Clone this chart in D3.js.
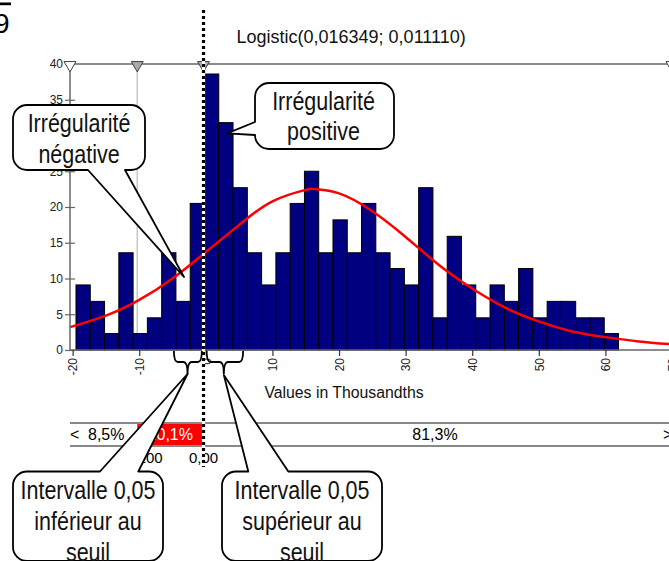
<!DOCTYPE html>
<html><head><meta charset="utf-8">
<script src="https://cdn.jsdelivr.net/npm/d3@7"></script>
<style>
html,body{margin:0;padding:0;background:#fff;overflow:hidden}
svg{display:block}
text{font-family:"Liberation Sans",Arial,sans-serif}
</style></head>
<body>
<svg id="c" width="669" height="561"></svg>
<script>
// ---------- data ----------
const titleText = "Logistic(0,016349; 0,011110)";
const xAxisTitle = "Values in Thousandths";
const binStart = -19.5;          // left edge of first bin (thousandths)
const binWidth = 2.144;          // bin width (thousandths)
const barValues = [9.1, 6.8, 2.3, 13.6, 2.3, 4.5, 13.6, 6.8, 20.5, 38.6,
                   31.8, 22.7, 13.6, 9.1, 13.6, 20.5, 25.0, 13.6, 18.2, 13.6,
                   20.5, 13.6, 11.4, 9.1, 22.7, 4.5, 15.9, 9.1, 4.5, 9.1,
                   6.8, 11.4, 4.5, 6.8, 6.8, 4.5, 4.5, 2.3];
const curveX = [-20.4, -15, -10, -5, 0, 5, 10, 15, 16.35, 20, 25, 30, 35, 40, 45, 50, 55, 60, 65, 70];
const curveY = [3.2, 4.8, 7.0, 10.0, 13.7, 17.5, 20.8, 22.4, 22.5, 21.9, 19.4, 15.8, 11.9, 8.6, 5.9, 4.0, 2.6, 1.8, 1.2, 0.8];
const xTicks = [-20, -10, 0, 10, 20, 30, 40, 50, 60, 70];
const xTickLabels = ["-20", "-10", "0", "10", "20", "30", "40", "50", "60", "70"];
const yTicks = [0, 5, 10, 15, 20, 25, 30, 35, 40];
const delimiters = [-10.3, -0.35];
const delimiterLabels = ["-0,0100", "0,00"];
const bandLabels = ["8,5%", "10,1%", "81,3%"];
const callout1 = ["Irrégularité", "négative"];
const callout2 = ["Irrégularité", "positive"];
const callout3 = ["Intervalle 0,05", "inférieur au", "seuil"];
const callout4 = ["Intervalle 0,05", "supérieur au", "seuil"];

// ---------- layout ----------
const svg = d3.select("#c");
const x = d3.scaleLinear().domain([-20.4, 70]).range([70, 672]);
const y = d3.scaleLinear().domain([0, 40]).range([350, 64]);
const gray = "#666";

// figure fragment top-left
svg.append("rect").attr("x", 0).attr("y", 2.5).attr("width", 11).attr("height", 2.7).attr("fill", "#000");
svg.append("text").attr("x", 9.5).attr("y", 33.3).attr("text-anchor", "end").attr("font-size", 28).text("9");

// title
svg.append("text").attr("x", 236.5).attr("y", 43.3).attr("font-size", 18).attr("fill", "#111").text(titleText);

// light delimiter line at left delimiter
svg.append("line").attr("x1", x(delimiters[0])).attr("x2", x(delimiters[0]))
  .attr("y1", y(40)).attr("y2", y(0)).attr("stroke", "#c8c8c8").attr("stroke-width", 1.5);

// bars
svg.append("g").selectAll("rect").data(barValues).join("rect")
  .attr("x", (d, i) => x(binStart + i * binWidth))
  .attr("width", (d, i) => x(binStart + (i + 1) * binWidth) - x(binStart + i * binWidth))
  .attr("y", d => y(d))
  .attr("height", d => y(0) - y(d))
  .attr("fill", "#000080").attr("stroke", "#000").attr("stroke-width", 1);

// fitted curve
const line = d3.line().x(d => x(d[0])).y(d => y(d[1])).curve(d3.curveNatural);
svg.append("path").datum(curveX.map((v, i) => [v, curveY[i]]))
  .attr("d", line).attr("fill", "none").attr("stroke", "#ff0000").attr("stroke-width", 2.5);

// y axis
const yAxis = svg.append("g").attr("transform", `translate(${x(-20.4)},0)`)
  .call(d3.axisLeft(y).tickValues(yTicks).tickSize(0).tickPadding(7).tickFormat(d3.format("d")));
yAxis.select(".domain").remove();
yAxis.selectAll("text").attr("font-size", 12).attr("fill", "#222").attr("font-family", "Liberation Sans, Arial, sans-serif");
yAxis.selectAll(".tick").append("line").attr("x1", -5).attr("x2", 5).attr("stroke", gray).attr("stroke-width", 1.2);
svg.append("line").attr("x1", x(-20.4)).attr("x2", x(-20.4)).attr("y1", y(40)).attr("y2", y(0))
  .attr("stroke", gray).attr("stroke-width", 1.5);

// x axis
svg.append("line").attr("x1", x(-20.4)).attr("x2", 669).attr("y1", y(0)).attr("y2", y(0))
  .attr("stroke", gray).attr("stroke-width", 1.5);
const xAxis = svg.append("g").attr("transform", `translate(0,${y(0)})`)
  .call(d3.axisBottom(x).tickValues(xTicks).tickSize(6).tickFormat((d, i) => xTickLabels[i]));
xAxis.select(".domain").remove();
xAxis.selectAll(".tick line").attr("stroke", "#333").attr("stroke-width", 1.2);
xAxis.selectAll("text").attr("font-size", 12).attr("fill", "#222").attr("font-family", "Liberation Sans, Arial, sans-serif")
  .attr("transform", "rotate(-90)").attr("text-anchor", "end").attr("x", -8).attr("y", 0).attr("dy", "0.35em");

// x axis title
svg.append("text").attr("x", 344).attr("y", 398).attr("text-anchor", "middle").attr("font-size", 15.8).attr("fill", "#111").text(xAxisTitle);

// top line with triangle markers
svg.append("line").attr("x1", x(-20.4)).attr("x2", 669).attr("y1", y(40)).attr("y2", y(40))
  .attr("stroke", gray).attr("stroke-width", 1.5);
const tri = d3.symbol().type(d3.symbolTriangle).size(62);
const markers = [{v: -20.4, f: "#fff"}, {v: delimiters[0], f: "#aaa"}, {v: delimiters[1], f: "#aaa"}, {v: 70, f: "#fff"}];
svg.append("g").selectAll("path").data(markers).join("path")
  .attr("d", tri).attr("transform", d => `translate(${x(d.v)},${y(40) + 1}) rotate(180)`)
  .attr("fill", d => d.f).attr("stroke", "#444").attr("stroke-width", 1);

// lower band
const bandTop = 423, bandBot = 446;
svg.append("rect").attr("x", x(delimiters[0])).attr("y", bandTop)
  .attr("width", x(delimiters[1]) - x(delimiters[0])).attr("height", bandBot - bandTop).attr("fill", "#ff0000");
[bandTop, bandBot].forEach(yy => svg.append("line").attr("x1", x(-20.4)).attr("x2", 669)
  .attr("y1", yy).attr("y2", yy).attr("stroke", "#888").attr("stroke-width", 2));
svg.append("text").attr("x", 70).attr("y", 440).attr("font-size", 16).text("<");
svg.append("text").attr("x", 88).attr("y", 440).attr("font-size", 16).text(bandLabels[0]);
svg.append("text").attr("x", 193).attr("y", 440).attr("text-anchor", "end").attr("font-size", 16).attr("fill", "#fff").text(bandLabels[1]);
svg.append("text").attr("x", 435).attr("y", 440).attr("text-anchor", "middle").attr("font-size", 16).text(bandLabels[2]);
svg.append("text").attr("x", 663).attr("y", 440).attr("font-size", 16).text(">");
svg.selectAll(".dl").data(delimiters).join("text").attr("class", "dl")
  .attr("x", d => x(d)).attr("y", 463).attr("text-anchor", "middle").attr("font-size", 15)
  .text((d, i) => delimiterLabels[i]);

// dotted delimiter line
svg.append("line").attr("x1", x(delimiters[1])).attr("x2", x(delimiters[1])).attr("y1", 10).attr("y2", 467)
  .attr("stroke", "#fff").attr("stroke-width", 3.2);
svg.append("line").attr("x1", x(delimiters[1])).attr("x2", x(delimiters[1])).attr("y1", 10).attr("y2", 467)
  .attr("stroke", "#000").attr("stroke-width", 3.2).attr("stroke-dasharray", "3,3");

// braces
function brace(xa, xb, xc, y0, y1, y2) {
  const r = 4, p = d3.path();
  p.moveTo(xa, y0);
  p.quadraticCurveTo(xa, y1, xa + r, y1);
  p.lineTo(xc - r, y1);
  p.quadraticCurveTo(xc, y1, xc, y2);
  p.quadraticCurveTo(xc, y1, xc + r, y1);
  p.lineTo(xb - r, y1);
  p.quadraticCurveTo(xb, y1, xb, y0);
  return p.toString();
}
svg.append("path").attr("d", brace(x(-4.8), x(-0.6), x(-2.75), 351, 362, 374))
  .attr("fill", "none").attr("stroke", "#000").attr("stroke-width", 1.8);
svg.append("path").attr("d", brace(x(0.12), x(5.6), x(2.7), 351, 362, 374))
  .attr("fill", "none").attr("stroke", "#000").attr("stroke-width", 1.8);

// callouts
function callout(x0, y0, x1, y1, r, edge, b1, b2, tx, ty) {
  const p = d3.path();
  p.moveTo(x0 + r, y0);
  if (edge === "top") { p.lineTo(b1, y0); p.lineTo(tx, ty); p.lineTo(b2, y0); }
  p.lineTo(x1 - r, y0);
  p.arcTo(x1, y0, x1, y0 + r, r);
  p.lineTo(x1, y1 - r);
  p.arcTo(x1, y1, x1 - r, y1, r);
  if (edge === "bottom") { p.lineTo(b2, y1); p.lineTo(tx, ty); p.lineTo(b1, y1); }
  p.lineTo(x0 + r, y1);
  p.arcTo(x0, y1, x0, y1 - r, r);
  if (edge === "left") { p.lineTo(x0, b2); p.lineTo(tx, ty); p.lineTo(x0, b1); }
  p.lineTo(x0, y0 + r);
  p.arcTo(x0, y0, x0 + r, y0, r);
  p.closePath();
  return p.toString();
}
function drawCallout(d, lines, cx, baseY, lh) {
  svg.append("path").attr("d", d).attr("fill", "#fff").attr("stroke", "#000").attr("stroke-width", 1.8).attr("stroke-linejoin", "round");
  const t = svg.append("text").attr("font-size", 25.6).attr("text-anchor", "middle").attr("fill", "#111")
    .attr("transform", `translate(${cx},0) scale(0.84,1)`);
  lines.forEach((s, i) => t.append("tspan").attr("x", 0).attr("y", baseY + i * lh).text(s));
}
drawCallout(callout(13, 105, 145, 170, 14, "bottom", 88, 125, 184, 277), callout1, 79, 131.7, 31);
drawCallout(callout(255, 83, 394, 149, 14, "left", 122, 135, 227, 133.3), callout2, 323.5, 110, 30.5);
drawCallout(callout(13, 471.5, 163, 561, 14, "top", 100, 138.3, x(-2.75), 374), callout3, 88, 499.3, 31);
drawCallout(callout(222, 471.5, 382, 561, 14, "top", 248.3, 288.3, x(2.7), 375), callout4, 302, 499.3, 31);
</script>
</body></html>
